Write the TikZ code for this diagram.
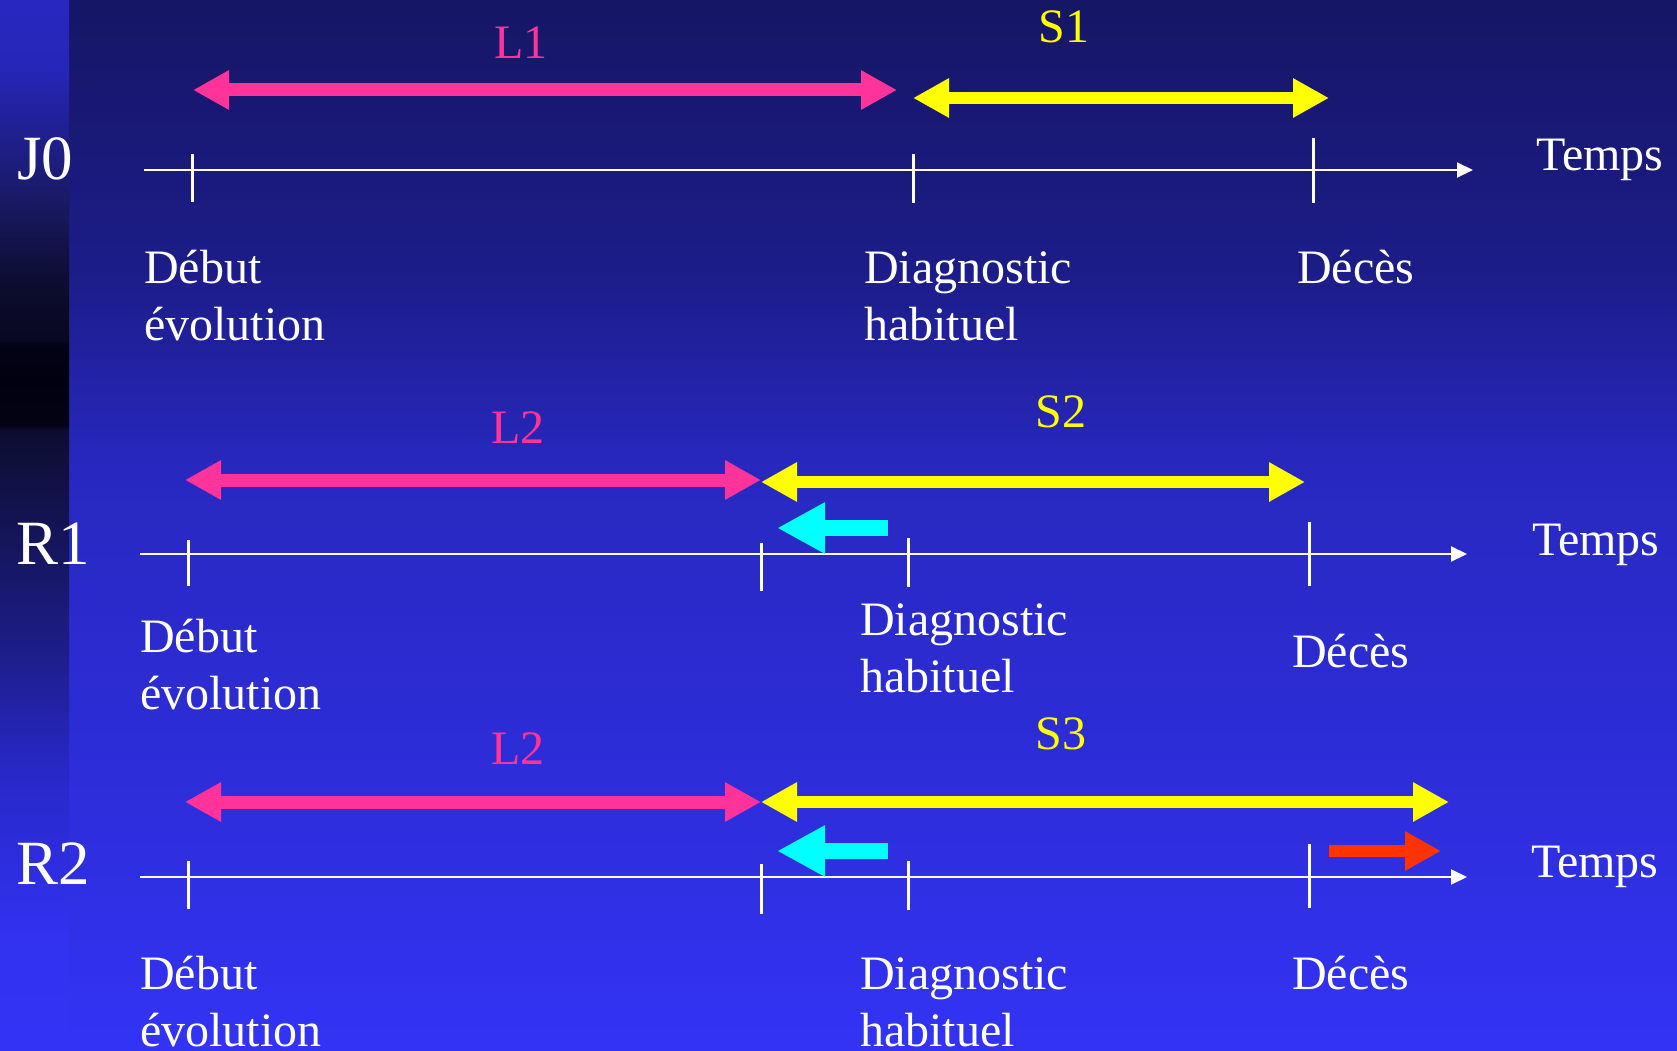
\documentclass[tikz,border=0pt]{standalone}
\usepackage{fontspec}
\setmainfont{Liberation Serif}
\usetikzlibrary{arrows.meta}
\definecolor{bgA}{RGB}{22,22,102}
\definecolor{bgB}{RGB}{28,28,136}
\definecolor{bgC}{RGB}{40,40,192}
\definecolor{bgD}{RGB}{47,47,226}
\definecolor{bgE}{RGB}{51,51,246}
\definecolor{stA}{RGB}{40,40,192}
\definecolor{stB}{RGB}{38,38,185}
\definecolor{stC}{RGB}{25,25,100}
\definecolor{stD}{RGB}{12,12,45}
\definecolor{stE}{RGB}{8,8,32}
\definecolor{stF}{RGB}{3,3,22}
\definecolor{stG}{RGB}{0,0,15}
\definecolor{stH}{RGB}{3,3,20}
\definecolor{stI}{RGB}{13,13,48}
\definecolor{stJ}{RGB}{28,28,130}
\definecolor{stK}{RGB}{40,40,200}
\definecolor{stL}{RGB}{50,50,240}
\definecolor{stM}{RGB}{51,51,246}
\definecolor{pinkc}{RGB}{255,51,153}
\definecolor{yellowc}{RGB}{255,255,0}
\definecolor{cyanc}{RGB}{0,255,255}
\definecolor{redc}{RGB}{255,51,0}
\pgfdeclareverticalshading{mainbg}{100bp}{color(0bp)=(bgE); color(25bp)=(bgE); color(33.5bp)=(bgD); color(52.6bp)=(bgC); color(62.3bp)=(bgB); color(75bp)=(bgA); color(100bp)=(bgA)}
\pgfdeclareverticalshading{stripbg}{100bp}{color(0bp)=(stM); color(25bp)=(stM); color(30.3bp)=(stL); color(38.3bp)=(stK); color(44.7bp)=(stJ); color(54.5bp)=(stI); color(54.8bp)=(stH); color(56.9bp)=(stG); color(58.6bp)=(stF); color(58.8bp)=(stE); color(61.3bp)=(stD); color(65.4bp)=(stC); color(71.8bp)=(stB); color(75bp)=(stA); color(100bp)=(stA)}
\tikzset{
  txt/.style={text=white, inner sep=0pt, anchor=base west, font=\fontsize{48}{57}\selectfont, align=left},
  rowlbl/.style={text=white, inner sep=0pt, anchor=base west, font=\fontsize{63}{70}\selectfont},
  seglbl/.style={inner sep=0pt, anchor=center, font=\fontsize{48}{57}\selectfont},
  axisline/.style={draw=white, line width=2pt, -{Triangle[length=16pt,width=15pt]}},
  tick/.style={draw=white, line width=3pt},
  pinkarr/.style={draw=pinkc, line width=13pt, {Triangle[length=36pt,width=37pt]}-{Triangle[length=36pt,width=37pt]}},
  yelarr/.style={draw=yellowc, line width=12pt, {Triangle[length=36pt,width=37pt]}-{Triangle[length=36pt,width=37pt]}},
  cyanarr/.style={draw=cyanc, line width=16pt, -{Triangle[length=48pt,width=48pt]}},
  redarr/.style={draw=redc, line width=12pt, -{Triangle[length=36pt,width=37pt]}}
}
\begin{document}
\begin{tikzpicture}[x=1pt,y=-1pt]
\useasboundingbox (0,0) rectangle (1677,1051);
\shade[shading=mainbg] (69,0) rectangle (1677,1051);
\shade[shading=stripbg] (0,0) rectangle (69,1051);

% ---------- J0 ----------
\node[rowlbl] (j0) at (17,179) {J0};
\coordinate (j0s) at (144,170);
\coordinate (j0e) at (1473,170);
\draw[axisline] (j0s) -- (j0e);
\draw[tick] (192,154) -- (192,202);
\draw[tick] (913,154) -- (913,203);
\draw[tick] (1313,138) -- (1313,203);
\coordinate (l1a) at (193,90);
\coordinate (l1b) at (897,90);
\draw[pinkarr] (l1a) -- (l1b);
\coordinate (s1a) at (913,98);
\coordinate (s1b) at (1329,98);
\draw[yelarr] (s1a) -- (s1b);
\node[seglbl, text=pinkc] (l1) at (521,43) {L1};
\node[seglbl, text=yellowc] (s1) at (1064,27) {S1};
\node[txt] (j0t) at (1536,171) {Temps};
\node[txt] (j0d) at (144,340) {Début\\évolution};
\node[txt] (j0g) at (864,340) {Diagnostic\\habituel};
\node[txt] (j0c) at (1297,283) {Décès};

% ---------- R1 ----------
\node[rowlbl] (r1) at (16,564) {R1};
\coordinate (r1s) at (140,554);
\coordinate (r1e) at (1467,554);
\draw[axisline] (r1s) -- (r1e);
\draw[tick] (188,540) -- (188,586);
\draw[tick] (761,543) -- (761,591);
\draw[tick] (908,538) -- (908,587);
\draw[tick] (1309,522) -- (1309,586);
\coordinate (l2a) at (185,480);
\coordinate (l2b) at (761,480);
\draw[pinkarr] (l2a) -- (l2b);
\coordinate (s2a) at (761,482);
\coordinate (s2b) at (1305,482);
\draw[yelarr] (s2a) -- (s2b);
\coordinate (c1a) at (888,528);
\coordinate (c1b) at (777,528);
\draw[cyanarr] (c1a) -- (c1b);
\node[seglbl, text=pinkc] (l2) at (518,428) {L2};
\node[seglbl, text=yellowc] (s2) at (1061,412) {S2};
\node[txt] (r1t) at (1532,555) {Temps};
\node[txt] (r1d) at (140,709) {Début\\évolution};
\node[txt] (r1g) at (860,692) {Diagnostic\\habituel};
\node[txt] (r1c) at (1292,667) {Décès};

% ---------- R2 ----------
\node[rowlbl] (r2) at (16,884) {R2};
\coordinate (r2s) at (140,877);
\coordinate (r2e) at (1467,877);
\draw[axisline] (r2s) -- (r2e);
\draw[tick] (188,861) -- (188,909);
\draw[tick] (761,864) -- (761,914);
\draw[tick] (908,861) -- (908,910);
\draw[tick] (1309,844) -- (1309,908);
\coordinate (l3a) at (185,802);
\coordinate (l3b) at (761,802);
\draw[pinkarr] (l3a) -- (l3b);
\coordinate (s3a) at (761,802);
\coordinate (s3b) at (1449,802);
\draw[yelarr] (s3a) -- (s3b);
\coordinate (c2a) at (888,851);
\coordinate (c2b) at (777,851);
\draw[cyanarr] (c2a) -- (c2b);
\coordinate (rda) at (1329,851);
\coordinate (rdb) at (1441,851);
\draw[redarr] (rda) -- (rdb);
\node[seglbl, text=pinkc] (l3) at (518,749) {L2};
\node[seglbl, text=yellowc] (s3) at (1061,734) {S3};
\node[txt] (r2t) at (1531,877) {Temps};
\node[txt] (r2d) at (140,1046) {Début\\évolution};
\node[txt] (r2g) at (860,1046) {Diagnostic\\habituel};
\node[txt] (r2c) at (1292,989) {Décès};
\end{tikzpicture}
\end{document}
